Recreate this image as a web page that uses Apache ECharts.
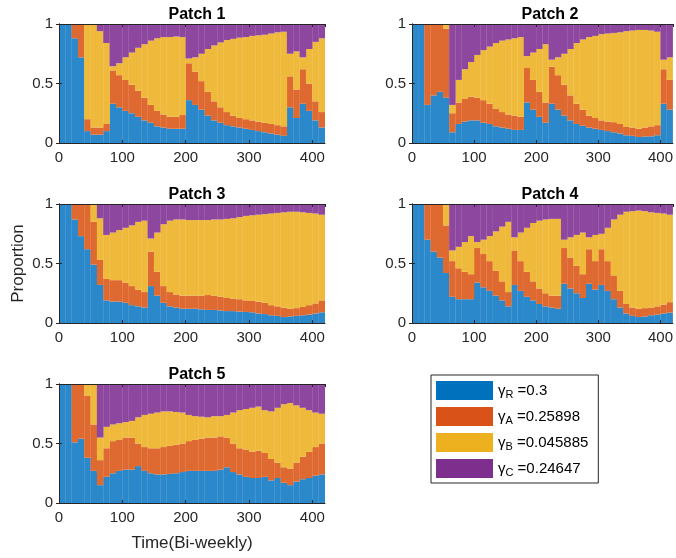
<!DOCTYPE html>
<html>
<head>
<meta charset="utf-8">
<script src="https://cdn.jsdelivr.net/npm/echarts@6/dist/echarts.min.js"></script>
<style>
  html, body { margin: 0; padding: 0; background: #fff; }
  #chart { width: 676px; height: 558px; }
</style>
</head>
<body>
<div id="chart"></div>
<script>
// bar centres (bi-weekly time), one bar per 10 steps
const time = [5, 15, 25, 35, 45, 55, 65, 75, 85, 95, 105, 115, 125, 135, 145, 155, 165, 175, 185, 195, 205,
  215, 225, 235, 245, 255, 265, 275, 285, 295, 305, 315, 325, 335, 345, 355, 365, 375, 385, 395, 405, 415];

// cumulative tops: blue (R), blue+orange (A), blue+orange+yellow (B); purple (C) fills to 1
const p1Blue = [1, 1, .88, .72, .10, .07, .07, .10, .33, .30, .27, .25, .22, .19, .17, .14, .13, .12, .12, .12,
  .36, .32, .28, .23, .19, .17, .15, .14, .13, .12, .11, .10, .09, .08, .07, .06, .30, .21, .33, .27, .19, .13];
const p1Orange = [1, 1, 1, 1, .20, .13, .13, .16, .61, .57, .53, .49, .44, .38, .32, .27, .24, .22, .22, .235,
  .67, .60, .52, .43, .35, .30, .26, .23, .21, .20, .19, .18, .17, .16, .15, .14, .56, .45, .62, .50, .35, .26];
const p1Yellow = [1, 1, 1, 1, 1, 1, .94, .84, .645, .67, .72, .76, .80, .83, .86, .88, .89, .89, .895, .89,
  .71, .72, .75, .79, .82, .845, .865, .875, .885, .89, .90, .905, .91, .92, .93, .935, .75, .77, .72, .79, .85, .88];

const p2Blue = [1, 1, .32, .40, .43, .38, .09, .16, .18, .19, .19, .17, .16, .14, .13, .12, .11, .11, .34, .28, .22,
  .17, .33, .28, .23, .19, .16, .145, .13, .12, .11, .10, .09, .08, .065, .06, .05, .055, .056, .065, .33, .28];
const p2Orange = [1, 1, 1, 1, 1, .96, .25, .34, .37, .39, .38, .36, .33, .29, .26, .24, .23, .22, .63, .53, .43,
  .34, .64, .57, .49, .40, .33, .28, .23, .21, .19, .18, .175, .16, .135, .13, .12, .13, .14, .15, .62, .53];
const p2Yellow = [1, 1, 1, 1, 1, 1, .32, .53, .62, .68, .74, .78, .81, .84, .86, .87, .88, .89, .73, .76, .79,
  .83, .70, .72, .75, .79, .84, .87, .89, .90, .915, .92, .925, .93, .94, .945, .95, .95, .945, .935, .70, .72];

const p3Blue = [1, 1, .87, .73, .62, .49, .32, .19, .18, .18, .17, .15, .14, .13, .31, .23, .17, .14, .13, .12, .12,
  .12, .115, .11, .11, .105, .10, .10, .095, .093, .09, .08, .075, .065, .06, .05, .055, .06, .065, .07, .08, .09];
const p3Orange = [1, 1, 1, 1, 1, .85, .53, .37, .36, .36, .34, .31, .28, .26, .60, .43, .31, .26, .24, .23, .23,
  .23, .23, .235, .23, .22, .21, .205, .20, .19, .185, .18, .17, .15, .14, .13, .12, .125, .135, .15, .165, .19];
const p3Yellow = [1, 1, 1, 1, 1, 1, .88, .74, .76, .78, .80, .82, .85, .86, .71, .76, .83, .86, .87, .87, .865,
  .865, .865, .865, .87, .87, .875, .88, .89, .90, .905, .91, .915, .92, .925, .93, .935, .935, .93, .925, .92, .91];

const p4Blue = [1, 1, .70, .60, .55, .42, .22, .20, .20, .20, .34, .30, .27, .23, .19, .14, .32, .27, .22, .19, .16,
  .14, .13, .12, .33, .29, .25, .21, .33, .28, .32, .27, .20, .13, .08, .06, .05, .055, .065, .07, .08, .087];
const p4Orange = [1, 1, 1, 1, 1, .82, .52, .46, .43, .41, .63, .58, .52, .44, .35, .26, .61, .52, .43, .35, .29,
  .25, .23, .23, .63, .55, .48, .41, .62, .52, .62, .52, .40, .27, .16, .13, .12, .125, .13, .14, .155, .175];
const p4Yellow = [1, 1, 1, 1, 1, 1, .61, .64, .68, .73, .68, .70, .73, .77, .81, .85, .72, .76, .80, .84, .86,
  .87, .875, .875, .70, .72, .74, .76, .72, .74, .75, .80, .87, .91, .935, .94, .945, .94, .93, .925, .92, .91];

const p5Blue = [1, 1, .51, .54, .38, .27, .15, .22, .25, .27, .28, .28, .31, .27, .25, .24, .24, .245, .25, .26, .27,
  .27, .27, .27, .27, .28, .30, .26, .24, .22, .21, .21, .22, .19, .21, .17, .15, .18, .20, .21, .23, .24];
const p5Orange = [1, 1, 1, 1, .90, .66, .36, .46, .52, .53, .55, .55, .50, .47, .46, .46, .47, .48, .49, .50, .52,
  .53, .54, .55, .55, .56, .55, .50, .46, .45, .43, .44, .42, .37, .34, .30, .29, .34, .39, .43, .47, .50];
const p5Yellow = [1, 1, 1, 1, 1, 1, .55, .64, .66, .67, .68, .69, .72, .74, .75, .76, .77, .77, .765, .76, .74,
  .73, .725, .72, .73, .73, .74, .76, .78, .79, .80, .81, .78, .77, .80, .83, .84, .82, .80, .78, .76, .75];

const patchTitles = ['Patch 1', 'Patch 2', 'Patch 3', 'Patch 4', 'Patch 5'];
const gammaNames = ['R', 'A', 'B', 'C'];
const gammaValues = ['0.3', '0.25898', '0.045885', '0.24647'];

const patches = [
  [p1Blue, p1Orange, p1Yellow],
  [p2Blue, p2Orange, p2Yellow],
  [p3Blue, p3Orange, p3Yellow],
  [p4Blue, p4Orange, p4Yellow],
  [p5Blue, p5Orange, p5Yellow]
];

const barColors = ['#2a88cb', '#de6a31', '#efba3b', '#8d479f'];
const legendColors = ['#0072BD', '#D95319', '#EDB120', '#7E2F8E'];
const font = 'Liberation Sans, Arial, Helvetica, sans-serif';
const ink = '#262626';

// plot boxes
const boxes = [
  { left: 59, top: 24 }, { left: 412, top: 24 },
  { left: 59, top: 204 }, { left: 412, top: 204 },
  { left: 59, top: 384 }
];
const boxW = 266, boxH = 119;

let chart = echarts.init(document.getElementById('chart'), null, { renderer: 'canvas' });

let grid = [], xAxis = [], yAxis = [], series = [], title = [];
boxes.forEach(function (b, i) {
  grid.push({ left: b.left, top: b.top, width: boxW, height: boxH });
  title.push({
    text: patchTitles[i],
    left: b.left + boxW / 2,
    top: b.top - 22,
    textAlign: 'center',
    textStyle: { fontFamily: font, fontSize: 16, fontWeight: 'bold', color: '#000' }
  });
  let axisLine = { show: true, lineStyle: { color: ink, width: 1 } };
  let tick = { show: true, inside: true, length: 3, lineStyle: { color: ink } };
  // hidden category axis carrying the bars
  xAxis.push({
    gridIndex: i, type: 'category', data: time, show: false, boundaryGap: true, position: 'top'
  });
  // visible time axis (bottom) and box edge (top)
  xAxis.push({
    gridIndex: i, type: 'value', min: 0, max: 420, interval: 100, position: 'bottom', z: 10,
    axisLine: axisLine, axisTick: tick, splitLine: { show: false },
    axisLabel: { fontFamily: font, fontSize: 15, color: ink, margin: 7, showMaxLabel: false },
    name: i === 4 ? 'Time(Bi-weekly)' : '',
    nameLocation: 'middle', nameGap: 32,
    nameTextStyle: { fontFamily: font, fontSize: 17, color: ink }
  });
  xAxis.push({
    gridIndex: i, type: 'value', min: 0, max: 420, interval: 100, position: 'top', z: 10,
    axisLine: axisLine, axisTick: tick, axisLabel: { show: false }, splitLine: { show: false }
  });
  yAxis.push({
    gridIndex: i, type: 'value', min: 0, max: 1, interval: 0.5, position: 'left', z: 10,
    axisLine: axisLine, axisTick: tick, splitLine: { show: false },
    axisLabel: { fontFamily: font, fontSize: 15, color: ink, margin: 6 },
    name: i === 2 ? 'Proportion' : '',
    nameLocation: 'middle', nameGap: 32, nameRotate: 90,
    nameTextStyle: { fontFamily: font, fontSize: 17, color: ink }
  });
  yAxis.push({
    gridIndex: i, type: 'value', min: 0, max: 1, interval: 0.5, position: 'right', z: 10,
    axisLine: axisLine, axisTick: tick, axisLabel: { show: false }, splitLine: { show: false }
  });

  let [blue, orange, yellow] = patches[i];
  let parts = [
    blue,
    orange.map(function (v, k) { return +(v - blue[k]).toFixed(4); }),
    yellow.map(function (v, k) { return +(v - orange[k]).toFixed(4); }),
    yellow.map(function (v) { return +(1 - v).toFixed(4); })
  ];
  parts.forEach(function (d, s) {
    series.push({
      name: gammaNames[s],
      type: 'bar',
      stack: 'patch' + i,
      xAxisIndex: i * 3,
      yAxisIndex: i * 2,
      barCategoryGap: '0%',
      barWidth: '104%',
      data: d,
      itemStyle: { color: barColors[s] }
    });
  });
});

let option = {
  animation: false,
  title: title,
  grid: grid,
  xAxis: xAxis,
  yAxis: yAxis,
  legend: {
    orient: 'vertical',
    left: 431,
    top: 375,
    padding: [6, 10, 5, 5],
    itemWidth: 57,
    itemHeight: 19,
    itemGap: 7,
    icon: 'rect',
    borderColor: ink,
    borderWidth: 1,
    backgroundColor: '#fff',
    data: gammaNames.map(function (n, k) {
      return { name: n, itemStyle: { color: legendColors[k], borderWidth: 0 } };
    }),
    formatter: function (name) {
      let k = gammaNames.indexOf(name);
      return '{g|γ}{s|' + name + '}{v| =' + gammaValues[k] + '}';
    },
    textStyle: {
      fontFamily: font, fontSize: 15, color: '#000',
      rich: {
        g: { fontFamily: font, fontSize: 15, color: '#000' },
        s: { fontFamily: font, fontSize: 11, color: '#000', padding: [8, 0, 0, 0] },
        v: { fontFamily: font, fontSize: 15, color: '#000' }
      }
    }
  },
  series: series
};
chart.setOption(option);
</script>
</body>
</html>
